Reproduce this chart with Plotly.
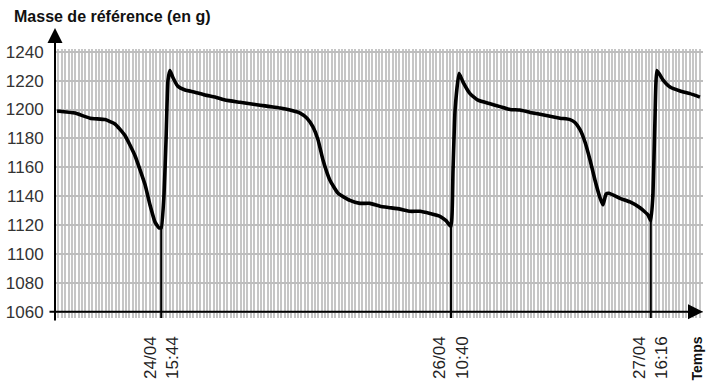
import plotly.graph_objects as go

# ---- data ----
times = [
    "2021-04-24 00:18", "2021-04-24 02:58", "2021-04-24 05:11", "2021-04-24 07:25",
    "2021-04-24 08:53", "2021-04-24 10:22", "2021-04-24 11:51", "2021-04-24 13:20",
    "2021-04-24 14:04", "2021-04-24 14:49", "2021-04-24 15:24", "2021-04-24 15:44",
    "2021-04-24 16:09", "2021-04-24 16:27", "2021-04-24 16:44", "2021-04-24 17:02",
    "2021-04-24 17:29", "2021-04-24 18:13", "2021-04-24 19:16", "2021-04-24 20:44",
    "2021-04-24 22:13", "2021-04-24 23:42", "2021-04-25 01:11", "2021-04-25 03:24",
    "2021-04-25 04:53", "2021-04-25 06:22", "2021-04-25 07:51", "2021-04-25 09:20",
    "2021-04-25 10:49", "2021-04-25 12:18", "2021-04-25 13:20", "2021-04-25 14:13",
    "2021-04-25 14:58", "2021-04-25 15:42", "2021-04-25 16:44", "2021-04-25 17:56",
    "2021-04-25 19:42", "2021-04-25 21:11", "2021-04-25 22:40", "2021-04-26 00:09",
    "2021-04-26 01:38", "2021-04-26 03:07", "2021-04-26 04:36", "2021-04-26 06:04",
    "2021-04-26 07:33", "2021-04-26 09:02", "2021-04-26 09:56", "2021-04-26 10:40",
    "2021-04-26 10:58", "2021-04-26 11:16", "2021-04-26 11:51", "2021-04-26 12:27",
    "2021-04-26 13:29", "2021-04-26 14:40", "2021-04-26 16:27", "2021-04-26 17:56",
    "2021-04-26 19:24", "2021-04-26 20:53", "2021-04-26 22:22", "2021-04-27 00:36",
    "2021-04-27 02:49", "2021-04-27 04:18", "2021-04-27 05:02", "2021-04-27 05:47",
    "2021-04-27 06:31", "2021-04-27 07:16", "2021-04-27 08:00", "2021-04-27 08:44",
    "2021-04-27 09:11", "2021-04-27 09:38", "2021-04-27 10:04", "2021-04-27 11:42",
    "2021-04-27 13:11", "2021-04-27 14:40", "2021-04-27 15:51", "2021-04-27 16:16",
    "2021-04-27 16:35", "2021-04-27 16:53", "2021-04-27 17:11", "2021-04-27 18:04",
    "2021-04-27 19:07", "2021-04-27 20:36", "2021-04-27 22:04", "2021-04-27 23:33",
]
masses = [
    1199, 1197.5, 1194, 1193,
    1190, 1182, 1168, 1148,
    1134, 1122, 1118, 1118,
    1141, 1179, 1220, 1227,
    1222, 1216, 1213.5, 1212,
    1210, 1208.6, 1206.5, 1205,
    1204, 1203, 1202, 1201,
    1199.6, 1197.5, 1194, 1188,
    1179, 1165, 1151, 1142,
    1137, 1135, 1135, 1133,
    1132, 1131, 1129.5, 1129.5,
    1128, 1126, 1123, 1119,
    1158, 1199.6, 1225, 1219,
    1211, 1206.5, 1204, 1202,
    1200, 1199.6, 1198, 1196,
    1194, 1193, 1191, 1186,
    1177.5, 1165, 1151, 1139,
    1134, 1141.5, 1142, 1138.5,
    1136, 1132, 1127, 1123,
    1141, 1193, 1227, 1220.5,
    1215.5, 1212.8, 1211, 1208.6,
]

event_times = ["2021-04-24 15:44", "2021-04-26 10:40", "2021-04-27 16:16"]
event_masses = [1118, 1119, 1123]
event_labels = ["24/04<br>15:44", "26/04<br>10:40", "27/04<br>16:16"]

x_range = ["2021-04-24 00:00", "2021-04-28 00:00"]
y_range = [1055.6, 1241.9]
y_ticks = [1060, 1080, 1100, 1120, 1140, 1160, 1180, 1200, 1220, 1240]

title_text = "Masse de référence (en g)"
x_title = "Temps"

FONT = "Liberation Sans, Arial, sans-serif"

fig = go.Figure()

# vertical event markers
ev_x, ev_y = [], []
for t, m in zip(event_times, event_masses):
    ev_x += [t, t, None]
    ev_y += [m, y_range[0], None]
fig.add_trace(go.Scatter(x=ev_x, y=ev_y, mode="lines",
                         line=dict(color="black", width=2), hoverinfo="skip",
                         showlegend=False))

# main curve
fig.add_trace(go.Scatter(x=times, y=masses, mode="lines",
                         line=dict(color="black", width=3.6, shape="spline", smoothing=0.4),
                         showlegend=False))

fig.update_layout(
    width=710, height=383,
    margin=dict(l=55, r=7, t=49, b=65, autoexpand=False),
    paper_bgcolor="white", plot_bgcolor="white",
    font=dict(family=FONT, size=16, color="#222"),
    showlegend=False,
    xaxis=dict(
        type="date", range=x_range, automargin=False,
        tickmode="array", tickvals=event_times, ticktext=event_labels,
        tickangle=-90, showgrid=False, zeroline=False, showline=False,
        ticks="", ticklabelstandoff=14,
        tickfont=dict(size=17, color="#222"),
        minor=dict(dtick=30 * 60 * 1000, tick0="2021-04-24 00:00",
                   showgrid=True, gridcolor="#c6c6c6", gridwidth=1.6),
    ),
    yaxis=dict(
        range=y_range, tickmode="array", tickvals=y_ticks, automargin=False,
        showgrid=True, gridcolor="#bdbdbd", gridwidth=1.6,
        zeroline=False, showline=False,
        ticks="outside", ticklen=7, tickcolor="rgba(0,0,0,0)",
        tickfont=dict(size=17, color="#333"),
    ),
    annotations=[
        # y axis with arrow
        dict(x=x_range[0], xref="x", y=1.078, yref="paper",
             ax=0, ay=294, axref="pixel", ayref="pixel",
             text="", showarrow=True, arrowhead=2, arrowsize=1.5,
             arrowwidth=2, arrowcolor="black", standoff=0),
        # x axis with arrow at y = 1060
        dict(x=x_range[1], xref="x", y=1060, yref="y",
             ax=-655, ay=0, axref="pixel", ayref="pixel",
             text="", showarrow=True, arrowhead=2, arrowsize=1.5,
             arrowwidth=2, arrowcolor="black", standoff=0),
        dict(x=-0.066, xref="paper", y=1.119, yref="paper",
             xanchor="left", yanchor="middle", showarrow=False,
             text="<b>" + title_text + "</b>",
             font=dict(family=FONT, size=16, color="#111")),
        dict(x=0.991, xref="paper", y=-0.15, yref="paper",
             xanchor="center", yanchor="middle", showarrow=False,
             textangle=-90, text="<b>" + x_title + "</b>",
             font=dict(family=FONT, size=14, color="#111")),
    ],
)

fig.write_html("out.html",
               config={"displayModeBar": False},
               post_script="document.body.style.margin='0';document.body.style.overflow='hidden';")
